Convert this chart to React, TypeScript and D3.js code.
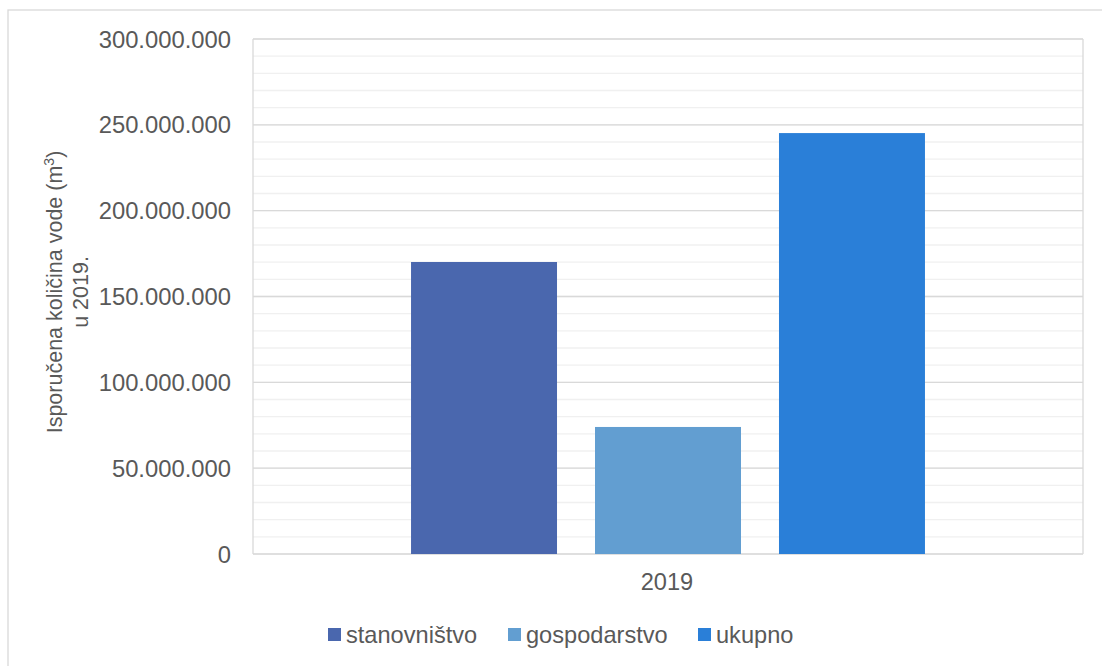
import React from "react";
import * as d3 from "d3";

const categories = ["2019"];
const seriesNames = ["stanovništvo", "gospodarstvo", "ukupno"];
const seriesValues = [170100000, 74000000, 245200000];
const seriesColors = ["#4a67ae", "#629ed1", "#2a7fd8"];
const yTicks = [0, 50000000, 100000000, 150000000, 200000000, 250000000, 300000000];
const yMinorTicks = d3.range(0, 300000001, 10000000);

const W = 1102;
const H = 666;
const plot = { left: 253, right: 1083, top: 39, bottom: 554 };
const textColor = "#595959";
const font = "'Liberation Sans', Arial, sans-serif";

const locale = d3.formatLocale({ decimal: ",", thousands: ".", grouping: [3], currency: ["", ""] });
const fmt = locale.format(",.0f");

export default function App() {
  const y = d3.scaleLinear().domain([0, 300000000]).range([plot.bottom, plot.top]);
  const xCat = d3.scaleBand().domain(categories).range([plot.left, plot.right]);
  const xSeries = d3
    .scaleBand()
    .domain(seriesNames)
    .range([0, xCat.bandwidth()])
    .paddingInner(0.2065)
    .paddingOuter(0.859);

  const legendItems = [
    { sq: 328, tx: 346 },
    { sq: 508, tx: 526 },
    { sq: 698, tx: 716 },
  ];

  return (
    <svg
      width={W}
      height={H}
      style={{ position: "absolute", left: 0, top: 0, background: "#fff" }}
      fontFamily={font}
    >
      <rect x={8} y={10} width={1300} height={900} fill="#fff" stroke="#d9d9d9" strokeWidth={1.3} />
      {/* minor gridlines */}
      {yMinorTicks.map((t) => (
        <line key={"m" + t} x1={plot.left} x2={plot.right} y1={y(t)} y2={y(t)} stroke="#f0f0f0" strokeWidth={1.3} />
      ))}
      {/* major gridlines */}
      {yTicks.map((t) => (
        <line key={"g" + t} x1={plot.left} x2={plot.right} y1={y(t)} y2={y(t)} stroke="#d9d9d9" strokeWidth={1.3} />
      ))}
      <line x1={plot.left} x2={plot.left} y1={plot.top} y2={plot.bottom} stroke="#d9d9d9" strokeWidth={1.3} />
      <line x1={plot.right} x2={plot.right} y1={plot.top} y2={plot.bottom} stroke="#d9d9d9" strokeWidth={1.3} />
      {/* bars */}
      {categories.map((c) =>
        seriesNames.map((s, i) => (
          <rect
            key={c + s}
            x={(xCat(c) as number) + (xSeries(s) as number)}
            y={y(seriesValues[i])}
            width={xSeries.bandwidth()}
            height={y(0) - y(seriesValues[i])}
            fill={seriesColors[i]}
          />
        ))
      )}
      {/* y tick labels */}
      {yTicks.map((t) => (
        <text key={"t" + t} x={231} y={y(t) + 8.5} textAnchor="end" fontSize={23.8} fill={textColor}>
          {fmt(t)}
        </text>
      ))}
      {/* category labels */}
      {categories.map((c) => (
        <text
          key={"c" + c}
          x={(xCat(c) as number) + xCat.bandwidth() / 2 - 1}
          y={590}
          textAnchor="middle"
          fontSize={23.6}
          fill={textColor}
        >
          {c}
        </text>
      ))}
      {/* y axis title */}
      <g transform="translate(62, 292) rotate(-90)">
        <text x={0} y={0} textAnchor="middle" fontSize={21.5} fill={textColor}>
          Isporučena količina vode (m
          <tspan fontSize={14} dy={-8}>3</tspan>
          <tspan dy={8}>)</tspan>
        </text>
        <text x={0} y={26} textAnchor="middle" fontSize={21.5} fill={textColor}>
          u 2019.
        </text>
      </g>
      {/* legend */}
      {seriesNames.map((s, i) => (
        <g key={"l" + s}>
          <rect x={legendItems[i].sq} y={628} width={13} height={13} fill={seriesColors[i]} />
          <text x={legendItems[i].tx} y={643} fontSize={23.6} fill={textColor}>
            {s}
          </text>
        </g>
      ))}
    </svg>
  );
}
